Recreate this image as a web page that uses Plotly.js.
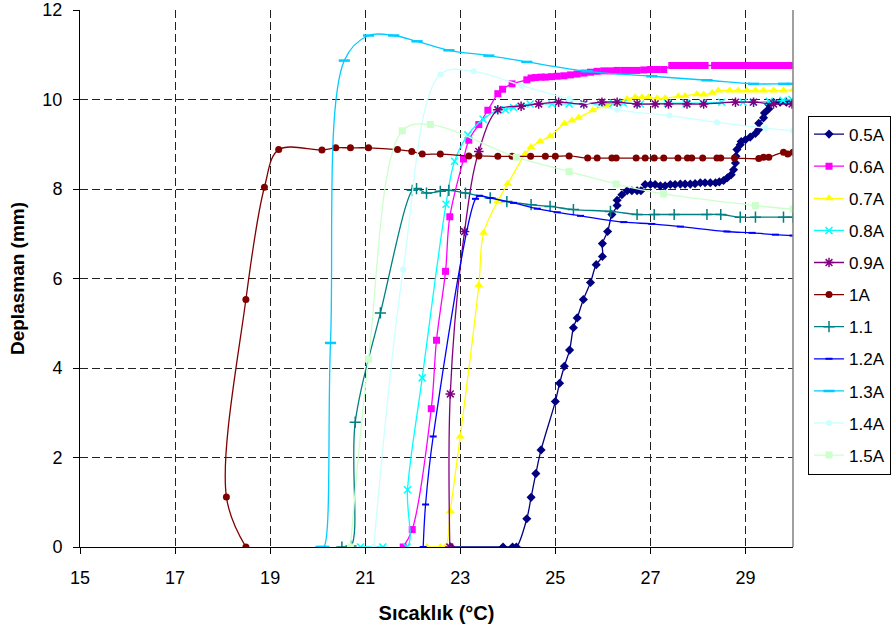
<!DOCTYPE html>
<html>
<head>
<meta charset="utf-8">
<script src="https://cdn.plot.ly/plotly-3.0.1.min.js"></script>
<style>html,body{margin:0;padding:0;background:#fff;}#chart{width:896px;height:635px;}</style>
</head>
<body>
<div id="chart"></div>
<script>
// Series names
var seriesNames = ["0.5A","0.6A","0.7A","0.8A","0.9A","1A","1.1","1.2A","1.3A","1.4A","1.5A"];

// 0.5A
var x05 = [22.80,23.90,24.10,24.18,24.40,24.49,24.59,24.70,25.00,25.09,25.19,25.30,25.38,25.46,25.59,25.74,25.86,25.99,25.99,26.10,26.19,26.30,26.30,26.40,26.51,26.61,26.72,26.80,26.89,27.00,27.10,27.21,27.31,27.42,27.52,27.63,27.73,27.84,27.94,28.05,28.15,28.26,28.37,28.45,28.54,28.62,28.70,28.75,28.79,28.80,28.82,28.89,28.91,29.00,29.10,29.21,29.28,29.28,29.38,29.40,29.49,29.49,29.59,29.73,29.86,30.00];
var y05 = [0,0,0,0,0.63,1.11,1.64,2.17,3.25,3.66,4.04,4.40,4.90,5.12,5.53,5.91,6.31,6.49,6.78,7.05,7.43,7.63,7.75,7.87,7.96,7.96,7.96,7.96,8.10,8.10,8.10,8.07,8.07,8.10,8.10,8.11,8.11,8.11,8.12,8.14,8.14,8.14,8.14,8.16,8.19,8.25,8.32,8.43,8.58,8.73,8.88,8.99,9.06,9.10,9.16,9.24,9.33,9.47,9.59,9.70,9.79,9.89,9.94,9.94,9.94,9.94];

// 0.6A
var x06 = [21.80,21.99,22.39,22.50,22.69,22.78,23.07,23.18,23.39,23.58,23.79,23.89,24.09,24.40,24.49,24.58,24.70,24.79,24.92,25.04,25.18,25.32,25.46,25.60,25.74,25.88,26.02,26.16,26.30,26.44,26.58,26.72,26.86,27.00,27.14,27.28,27.45,27.55,27.65,27.75,27.85,27.95,28.05,28.15,28.35,28.45,28.55,28.65,28.75,28.85,28.95,29.05,29.15,29.25,29.35,29.45,29.55,29.65,29.75,29.85,29.95];
var y06 = [0,0.39,3.09,4.62,6.16,7.38,8.67,9.09,9.44,9.76,10.13,10.23,10.35,10.44,10.48,10.49,10.50,10.50,10.51,10.52,10.53,10.55,10.57,10.59,10.61,10.63,10.64,10.64,10.65,10.65,10.65,10.65,10.66,10.67,10.67,10.67,10.76,10.76,10.76,10.76,10.76,10.76,10.76,10.76,10.76,10.76,10.76,10.76,10.76,10.76,10.76,10.76,10.76,10.76,10.76,10.76,10.76,10.76,10.76,10.76,10.76];

// 0.7A
var x07 = [22.30,22.58,22.69,22.79,23.00,23.39,23.49,23.79,24.00,24.37,24.49,24.68,24.89,25.19,25.35,25.49,25.79,25.98,26.10,26.30,26.51,26.68,26.82,26.96,27.14,27.31,27.59,27.73,27.98,28.12,28.30,28.43,28.67,28.85,29.03,29.21,29.38,29.59,29.80,30.00];
var y07 = [0,0,0,0.80,2.47,5.85,7.02,7.73,8.12,8.79,8.94,9.06,9.18,9.46,9.53,9.59,9.76,9.85,9.86,9.94,10.01,10.05,10.05,10.05,10.03,10.03,10.07,10.08,10.12,10.11,10.15,10.20,10.20,10.20,10.20,10.20,10.20,10.20,10.20,10.22];

// 0.8A
var x08 = [20.90,21.37,21.88,21.89,22.20,22.70,22.88,23.16,23.48,23.81,23.95,24.12,24.47,24.93,25.29,25.60,25.95,26.22,26.43,26.79,27.36,27.75,28.10,28.50,28.95,29.16,29.50,29.79,29.98];
var y08 = [0,0,0,1.28,3.78,7.66,8.62,9.21,9.56,9.77,9.77,9.82,9.90,9.90,9.90,9.90,9.90,9.92,9.92,9.90,9.92,9.92,9.92,9.94,9.94,9.94,9.96,9.98,10.00];

// 0.9A
var x09 = [22.78,22.79,23.09,23.39,23.79,24.28,24.65,25.07,25.60,25.98,26.30,26.72,27.10,27.38,27.77,28.12,28.79,29.17,29.59,29.98];
var y09 = [0,3.42,7.05,8.84,9.77,9.85,9.90,9.94,9.90,9.94,9.94,9.90,9.90,9.90,9.90,9.90,9.94,9.94,9.90,9.90];

// 1A
var x10 = [18.49,18.08,18.49,18.88,19.18,20.09,20.38,20.69,21.07,21.68,21.98,22.20,22.58,23.18,23.39,23.79,24.09,24.48,24.79,25.00,25.29,25.68,25.88,26.19,26.28,26.70,26.89,27.08,27.28,27.58,27.78,27.87,28.10,28.40,28.48,28.77,29.28,29.38,29.49,29.80,29.89,30.00];
var y10 = [0,1.12,5.53,8.04,8.88,8.87,8.92,8.92,8.92,8.88,8.84,8.78,8.78,8.74,8.74,8.73,8.73,8.73,8.73,8.73,8.74,8.69,8.69,8.69,8.69,8.69,8.69,8.69,8.69,8.69,8.69,8.69,8.69,8.69,8.69,8.69,8.68,8.71,8.71,8.82,8.78,8.82];

// 1.1
var x11 = [20.51,20.70,20.79,21.32,21.99,22.08,22.29,22.58,22.76,23.11,23.63,23.98,24.49,24.89,25.38,26.16,26.72,27.08,27.50,28.19,28.48,28.89,29.21,29.80,30.00];
var y11 = [0,0.02,2.79,5.23,7.97,8.01,7.91,7.95,7.97,7.91,7.80,7.72,7.65,7.61,7.54,7.50,7.43,7.43,7.43,7.43,7.43,7.37,7.37,7.37,7.37];

// 1.2A
var x12 = [22.22,22.27,22.43,23.32,23.40,23.63,24.12,24.62,25.04,25.53,26.44,27.03,27.63,28.61,29.14,29.63,30.00];
var y12 = [0,0.95,2.47,7.78,7.85,7.80,7.69,7.56,7.48,7.40,7.26,7.22,7.16,7.05,7.02,6.98,6.96];

// 1.3A
var x13 = [20.07,20.13,20.27,20.56,21.07,21.60,22.09,22.76,23.60,24.40,25.67,27.03,28.19,29.17,29.80,30.00];
var y13 = [0,0,4.56,10.87,11.43,11.43,11.30,11.10,10.98,10.84,10.63,10.52,10.43,10.35,10.35,10.35];

// 1.4A
var x14 = [21.18,21.80,22.58,23.28,24.30,25.29,26.30,27.40,28.40,29.42,30.00];
var y14 = [0,6.20,10.56,10.63,10.31,10.01,9.77,9.64,9.49,9.36,9.30];

// 1.5A
var x15 = [20.69,21.07,21.78,22.37,24.18,25.29,26.28,27.28,29.21,30.00];
var y15 = [0,4.20,9.30,9.44,8.71,8.39,8.11,7.89,7.63,7.55];

var xs = [x05,x06,x07,x08,x09,x10,x11,x12,x13,x14,x15];
var ys = [y05,y06,y07,y08,y09,y10,y11,y12,y13,y14,y15];
var colors = ["#000080","#FF00FF","#FFFF00","#00FFFF","#800080","#800000","#008080","#0000FF","#00CCFF","#CCFFFF","#CCFFCC"];
var symbols = ["diamond","square","triangle-up","x-thin","asterisk","circle","cross-thin","line-ew","line-ew","circle","square"];
var sizes = [7,7,8,7,8,7,8,5,8,6,7];
var mlw = [0,0,0,1.5,1.5,0,1.5,2,2.5,0,0];

var traces = seriesNames.map(function(n,i){
  return {
    type:"scatter", mode:"lines+markers", name:n, legendgroup:n,
    x: xs[i], y: ys[i],
    line:{color:colors[i], width:1.3, shape:"spline", smoothing:1},
    marker:{symbol:symbols[i], size:sizes[i], color:colors[i], line:{color:colors[i], width:mlw[i]}}
  };
});

var font = "Arial, 'Liberation Sans', sans-serif";
var layout = {
  width:896, height:635,
  margin:{l:80, r:103, t:10, b:88},
  paper_bgcolor:"#fff", plot_bgcolor:"#fff",
  font:{family:font, color:"#000", size:18},
  showlegend:true,
  legend:{xref:"container", yref:"container", x:0.9018, y:0.818, xanchor:"left", yanchor:"top",
          maxheight:600,
          bordercolor:"#000", borderwidth:1,
          bgcolor:"#fff", font:{family:font, size:17, color:"#000"}, tracegroupgap:7, itemwidth:30},
  xaxis:{range:[15,30], tick0:15, dtick:2, ticks:"outside", ticklen:6, tickcolor:"#000",
         showline:true, linecolor:"#000", linewidth:1, zeroline:false,
         showgrid:true, gridcolor:"#222", gridwidth:1, griddash:"8px,4px",
         ticklabelstandoff:8,
         tickfont:{family:font, size:18, color:"#000"},
         title:{text:"Sıcaklık (°C)", font:{family:font, size:20, weight:"bold", color:"#000"}, standoff:19}},
  yaxis:{range:[0,12], tick0:0, dtick:2, ticks:"outside", ticklen:6, tickcolor:"#000",
         showline:true, linecolor:"#000", linewidth:1, zeroline:false,
         showgrid:true, gridcolor:"#222", gridwidth:1, griddash:"8px,4px",
         ticklabelstandoff:7,
         tickfont:{family:font, size:18, color:"#000"},
         title:{text:"Deplasman (mm)", font:{family:font, size:19, weight:"bold", color:"#000"}, standoff:12}},
  shapes:[{type:"line", xref:"paper", yref:"paper", x0:1, x1:1, y0:0, y1:1, line:{color:"#808080", width:1.5}}]
};

Plotly.newPlot("chart", traces, layout, {displayModeBar:false, staticPlot:true});
</script>
</body>
</html>
